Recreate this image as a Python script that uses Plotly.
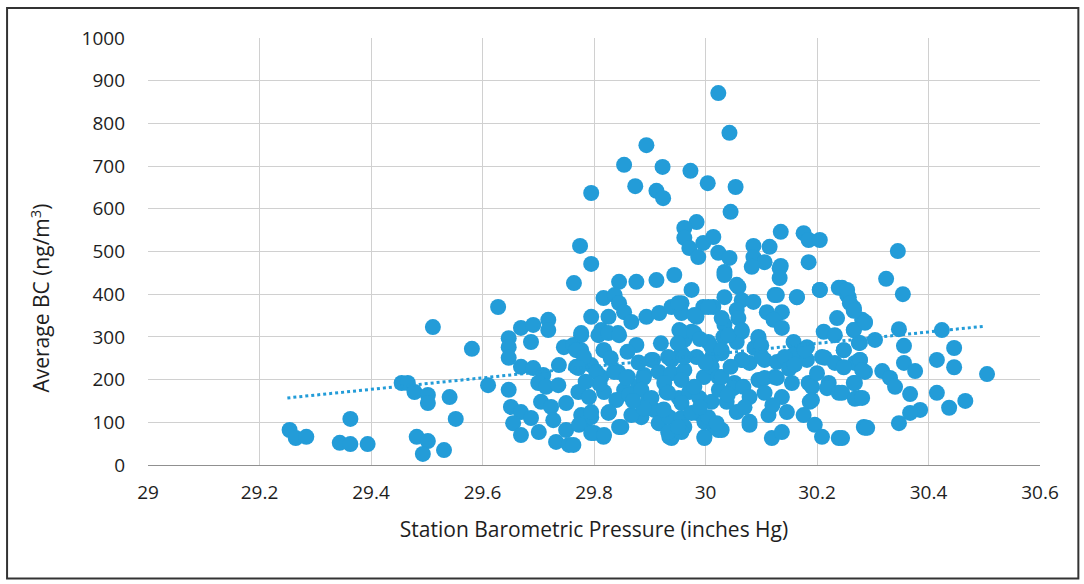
import plotly.graph_objects as go

# Station barometric pressure (inches Hg) and Average BC (ng/m3)
pressure_left = [29.254, 29.265, 29.284, 29.363, 29.344, 29.363, 29.394, 29.455, 29.466, 29.478,
                 29.502, 29.502, 29.511, 29.541, 29.552, 29.482, 29.502, 29.493, 29.531, 29.581,
                 29.610, 29.628]
bc_left = [82, 63, 66, 108, 52, 49, 49, 192, 192, 171,
           164, 145, 323, 159, 108, 66, 56, 26, 35, 272,
           187, 370]

pressure_mid = [29.669, 29.691, 29.718, 29.718, 29.687, 29.647, 29.647, 29.647, 29.669, 29.691,
                29.709, 29.737, 29.746, 29.763, 29.777, 29.768, 29.647, 29.700, 29.714, 29.736,
                29.705, 29.651, 29.669, 29.687, 29.723, 29.750, 29.655, 29.669, 29.701, 29.727,
                29.750, 29.732, 29.755, 29.764, 29.826, 29.813, 29.843, 29.795, 29.813, 29.861,
                29.890, 29.903, 29.854, 29.879, 29.897, 29.908, 29.885, 29.849, 29.826, 29.782,
                29.795, 29.800, 29.817, 29.917, 29.939, 29.777, 29.817, 29.843]
bc_mid = [321, 328, 340, 316, 288, 297, 276, 251, 230, 227,
          211, 234, 276, 281, 304, 230, 176, 192, 183, 187,
          148, 136, 124, 110, 136, 145, 98, 70, 77, 105,
          82, 54, 47, 426, 347, 316, 309, 234, 206, 206,
          211, 246, 176, 183, 152, 129, 112, 89, 122, 98,
          112, 75, 66, 98, 63, 269, 269, 218]

pressure_top = [30.023, 30.043, 29.894, 29.854, 29.923, 29.973, 29.874, 29.912, 29.924, 30.004,
                30.054, 29.795, 30.045, 29.984, 29.962, 29.962, 29.996, 30.014, 29.971, 30.023,
                30.043, 29.987, 30.086, 30.115, 30.086, 30.106, 30.135, 30.176, 30.185, 30.205,
                30.185, 30.135, 29.775, 29.795, 29.944, 29.975, 30.034, 30.059, 30.083, 30.133,
                30.133, 30.124]
bc_top = [871, 778, 749, 703, 698, 689, 653, 642, 625, 660,
          651, 637, 593, 569, 555, 532, 520, 534, 508, 497,
          485, 487, 513, 511, 487, 475, 546, 543, 527, 527,
          475, 466, 513, 471, 445, 410, 452, 417, 464, 461,
          438, 398]

pressure_c1 = [29.845, 29.876, 29.912, 29.817, 29.837, 29.845, 29.795, 29.854, 29.867, 29.894,
               29.917, 29.939, 29.957, 29.957, 29.996, 30.014, 29.984, 29.777, 29.808, 29.826,
               29.845, 29.876, 29.953, 29.975, 29.962, 30.005, 29.818, 29.768, 29.782, 29.906,
               29.939, 29.957, 29.984, 30.011]
bc_c1 = [429, 429, 433, 391, 398, 379, 347, 358, 335, 347,
         356, 370, 379, 356, 370, 370, 347, 309, 304, 309,
         304, 281, 316, 312, 293, 288, 269, 269, 253, 246,
         246, 262, 253, 251]

pressure_c2 = [29.772, 29.804, 29.836, 29.858, 29.889, 29.916, 29.939, 29.962, 29.997, 30.011,
               29.772, 29.791, 29.818, 29.840, 29.863, 29.885, 29.903, 29.930, 29.952, 29.971,
               29.989, 30.011, 30.024, 29.777, 29.795, 29.827, 29.867, 29.889, 29.916, 29.935,
               29.957, 29.962, 29.984, 29.998, 30.016, 29.773, 29.795, 29.818, 29.845, 29.935,
               29.957, 29.998, 29.763]
bc_c2 = [227, 218, 218, 204, 204, 218, 215, 222, 206, 230,
         171, 159, 171, 152, 164, 176, 157, 171, 157, 171,
         157, 148, 176, 117, 124, 124, 117, 133, 98, 112,
         110, 89, 122, 101, 89, 94, 75, 70, 89, 66,
         77, 66, 47]

pressure_c3 = [30.034, 30.056, 30.034, 30.065, 30.086, 30.056, 30.059, 30.128, 30.164, 30.110,
               30.137, 30.122, 30.137, 30.205, 30.245, 30.254, 30.266, 30.236, 30.281, 30.034,
               30.032, 30.065, 30.056, 30.095, 30.088, 30.158, 30.182, 30.158, 30.212, 30.232,
               30.266, 30.248, 30.214, 30.275, 30.029, 30.065, 30.106, 30.079, 30.128, 30.182,
               30.277]
bc_c3 = [445, 422, 393, 386, 382, 363, 344, 398, 393, 358,
         358, 340, 321, 410, 415, 398, 368, 344, 340, 328,
         300, 312, 288, 300, 274, 288, 276, 258, 312, 304,
         316, 269, 251, 286, 262, 246, 246, 239, 241, 246,
         246]

pressure_c4 = [29.951, 29.980, 30.005, 30.029, 29.957, 29.980, 30.041, 30.065, 30.095, 30.011,
               29.933, 29.962, 30.029, 30.065, 30.101, 30.142, 30.178, 30.209, 30.232, 30.268,
               29.926, 29.957, 29.980, 30.023, 30.052, 30.095, 30.124, 30.155, 30.185, 29.933,
               29.957, 29.975, 30.005, 29.933, 29.951, 29.998, 30.023, 30.079, 30.187, 30.221,
               30.164, 30.205, 30.239, 30.257, 30.266]
bc_c4 = [379, 351, 370, 344, 312, 309, 304, 316, 297, 276,
         253, 253, 269, 246, 253, 253, 269, 253, 239, 239,
         192, 199, 183, 206, 192, 199, 206, 192, 192, 169,
         145, 122, 112, 77, 89, 63, 82, 101, 148, 192,
         393, 410, 415, 393, 363]

pressure_c5 = [30.029, 30.050, 30.068, 30.079, 30.106, 30.128, 30.106, 30.137, 30.113, 30.146,
               30.176, 30.191, 30.191, 30.218, 30.239, 30.266, 30.275, 30.196, 30.209, 30.239,
               30.119, 30.137, 30.079, 30.029, 30.284, 30.020, 30.056, 30.038]
bc_c5 = [206, 180, 183, 159, 204, 204, 169, 159, 117, 124,
         117, 183, 152, 180, 169, 192, 157, 94, 66, 63,
         63, 77, 94, 82, 89, 98, 124, 148]

pressure_fill = [29.830, 29.860, 29.880, 29.950, 29.990, 30.000, 30.045, 30.150, 30.160, 30.100,
                 29.920, 29.870, 29.810, 30.070, 30.120, 29.990, 30.040, 30.200, 29.925, 29.785]
bc_fill = [250, 265, 240, 285, 295, 240, 230, 225, 235, 280,
           285, 150, 190, 135, 140, 135, 165, 215, 130, 195]

pressure_right = [30.345, 30.324, 30.354, 30.254, 30.259, 30.266, 30.286, 30.266, 30.277, 30.248,
                  30.277, 30.248, 30.286, 30.268, 30.245, 30.268, 30.347, 30.286, 30.245, 30.286,
                  30.347, 30.304, 30.356, 30.424, 30.446, 30.415, 30.446, 30.505, 30.356, 30.376,
                  30.317, 30.331, 30.340, 30.367, 30.415, 30.466, 30.437, 30.385, 30.367, 30.290,
                  30.281, 30.281]
bc_right = [501, 436, 400, 410, 379, 361, 333, 316, 286, 269,
            246, 229, 218, 192, 169, 155, 98, 87, 63, 335,
            318, 293, 279, 316, 274, 246, 229, 213, 239, 220,
            220, 204, 183, 166, 169, 150, 134, 129, 122, 87,
            157, 222]

# Linear trend line endpoints as drawn in the chart
trend_x = [29.25, 30.5]
trend_y = [157, 325]

x_ticks = [29, 29.2, 29.4, 29.6, 29.8, 30, 30.2, 30.4, 30.6]
x_tick_text = ["29", "29.2", "29.4", "29.6", "29.8", "30", "30.2", "30.4", "30.6"]
y_ticks = [0, 100, 200, 300, 400, 500, 600, 700, 800, 900, 1000]

pressure = (pressure_left + pressure_mid + pressure_top + pressure_c1 + pressure_c2
            + pressure_c3 + pressure_c4 + pressure_c5 + pressure_fill + pressure_right)
bc = bc_left + bc_mid + bc_top + bc_c1 + bc_c2 + bc_c3 + bc_c4 + bc_c5 + bc_fill + bc_right

BLUE = "#239CD8"
FONT = "Open Sans"
TXT = "#1E1E1E"

fig = go.Figure()
fig.add_trace(go.Scatter(
    x=pressure, y=bc, mode="markers",
    marker=dict(size=16, color=BLUE, line=dict(width=0)),
    showlegend=False, hoverinfo="x+y"))
fig.add_trace(go.Scatter(
    x=trend_x, y=trend_y, mode="lines",
    line=dict(color=BLUE, width=3, dash="dot"),
    showlegend=False, hoverinfo="skip"))

fig.update_layout(
    width=1084, height=584,
    margin=dict(l=148, r=44, t=38, b=119),
    paper_bgcolor="white", plot_bgcolor="white",
    font=dict(family=FONT, size=19, color=TXT),
    xaxis=dict(
        range=[29, 30.6], tickvals=x_ticks, ticktext=x_tick_text,
        showgrid=True, gridcolor="#D0D0D0", gridwidth=1,
        zeroline=False, showline=True, linecolor="#909090", linewidth=1,
        ticks="", ticklabelstandoff=10,
        tickfont=dict(family=FONT, size=19, color=TXT),
        title=dict(text="Station Barometric Pressure (inches Hg)",
                   font=dict(family=FONT, size=21, color=TXT), standoff=18),
    ),
    yaxis=dict(
        range=[0, 1000], tickvals=y_ticks,
        showgrid=True, gridcolor="#D0D0D0", gridwidth=1,
        zeroline=False, showline=False,
        ticks="", ticklabelstandoff=22,
        tickfont=dict(family=FONT, size=19, color=TXT),
    ),
    annotations=[dict(text="Average BC (ng/m<sup>3</sup>)", textangle=-90,
                      xref="paper", yref="paper", x=-0.121, y=0.39,
                      xanchor="center", yanchor="middle", showarrow=False,
                      font=dict(family=FONT, size=21, color=TXT))],
    shapes=[dict(type="rect", xref="paper", yref="paper",
                 x0=-0.158, x1=1.043, y0=-0.266, y1=1.07,
                 line=dict(color="#333333", width=2), layer="below")],
)

fig.write_html("out.html")
